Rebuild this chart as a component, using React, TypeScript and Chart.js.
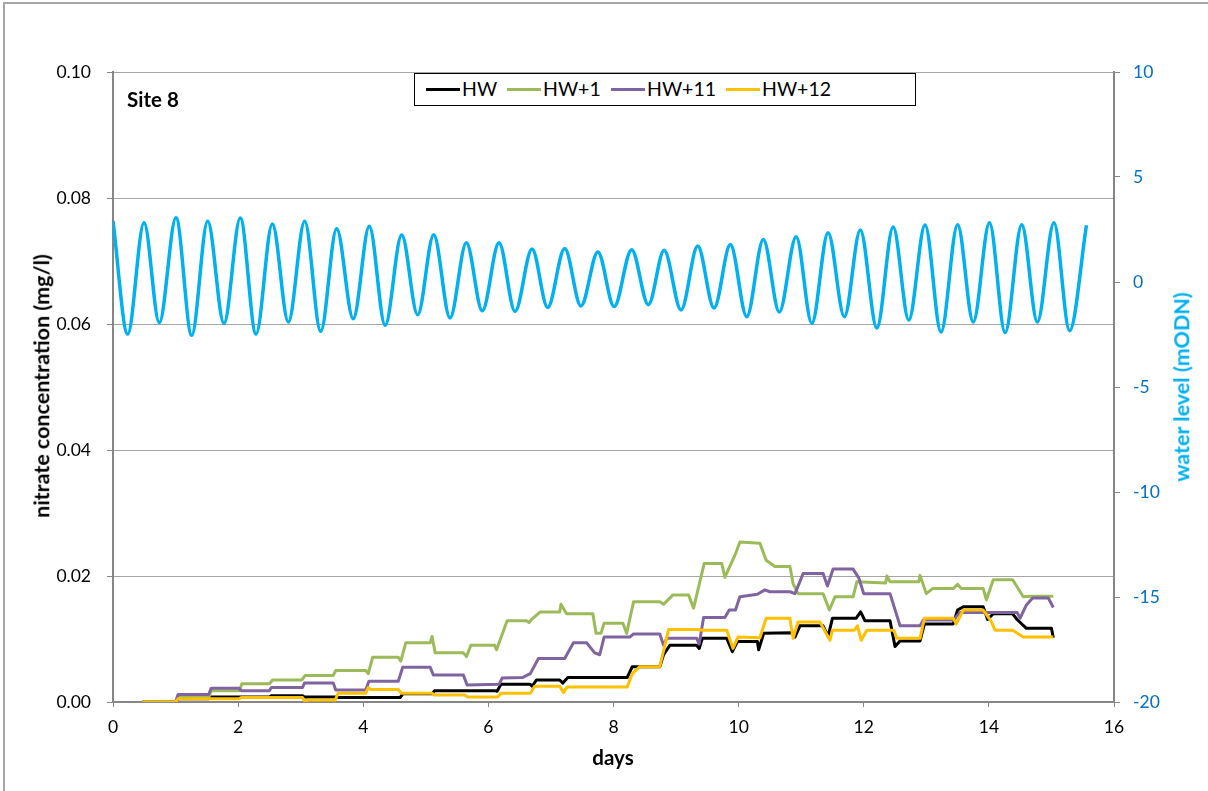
import React, { useEffect, useRef } from "react";
import { Chart, registerables } from "chart.js";

Chart.register(...registerables);

// ---- data (day, value) ----
const HW: [number, number][] = [
  [0.47, 0], [1.0, 0], [1.04, 0.0005], [1.53, 0.0005], [1.57, 0.0008], [2.5, 0.0008], [2.53, 0.001],
  [3.03, 0.001], [3.06, 0.0008], [3.55, 0.0008], [3.6, 0.0007], [4.59, 0.0007], [4.63, 0.0013],
  [5.1, 0.0013], [5.14, 0.0018], [6.1, 0.0018], [6.14, 0.0017], [6.2, 0.0028], [6.67, 0.0028],
  [6.7, 0.0025], [6.77, 0.0035], [7.14, 0.0035], [7.19, 0.003], [7.27, 0.0039], [8.22, 0.0039],
  [8.3, 0.0056], [8.74, 0.0056], [8.8, 0.0075], [8.9, 0.009], [9.33, 0.009], [9.37, 0.0085],
  [9.42, 0.0101], [9.81, 0.0101], [9.9, 0.008], [9.98, 0.0096], [10.3, 0.0096], [10.32, 0.0083],
  [10.4, 0.0109], [10.85, 0.011], [10.9, 0.0103], [10.98, 0.0121], [11.35, 0.0121], [11.43, 0.0104],
  [11.5, 0.0133], [11.88, 0.0133], [11.95, 0.0143], [12.02, 0.0129], [12.42, 0.0129], [12.5, 0.0088],
  [12.58, 0.0097], [12.9, 0.0097], [12.97, 0.0124], [13.43, 0.0124], [13.5, 0.0146], [13.59, 0.0151],
  [13.91, 0.0151], [13.98, 0.0131], [14.07, 0.014], [14.38, 0.014], [14.45, 0.0131], [14.6, 0.0117],
  [15.0, 0.0117], [15.03, 0.0102],
];

const HW_1: [number, number][] = [
  [0.47, 0], [1.0, 0], [1.04, 0.0007], [1.53, 0.0007], [1.57, 0.0018], [2.02, 0.0018], [2.06, 0.0029],
  [2.5, 0.0029], [2.55, 0.0035], [3.02, 0.0035], [3.04, 0.0038], [3.07, 0.0042], [3.52, 0.0042],
  [3.56, 0.005], [4.04, 0.005], [4.08, 0.0045], [4.15, 0.0071], [4.56, 0.0071], [4.6, 0.0065],
  [4.68, 0.0094], [5.07, 0.0094], [5.1, 0.0104], [5.15, 0.0078], [5.6, 0.0078], [5.65, 0.0072],
  [5.72, 0.009], [6.1, 0.009], [6.13, 0.0083], [6.3, 0.0129], [6.61, 0.0129], [6.65, 0.0126],
  [6.7, 0.0132], [6.83, 0.0143], [7.14, 0.0143], [7.16, 0.0155], [7.25, 0.014], [7.67, 0.014],
  [7.72, 0.0109], [7.8, 0.0109], [7.85, 0.0125], [8.15, 0.0125], [8.21, 0.0109], [8.32, 0.0159],
  [8.74, 0.0159], [8.8, 0.0155], [8.95, 0.017], [9.2, 0.017], [9.28, 0.0149], [9.45, 0.022],
  [9.73, 0.022], [9.78, 0.0198], [9.95, 0.0235], [10.02, 0.0254], [10.34, 0.0252], [10.44, 0.0225],
  [10.58, 0.0215], [10.82, 0.0215], [10.87, 0.0188], [10.95, 0.0172], [11.35, 0.0172], [11.45, 0.0146],
  [11.54, 0.0167], [11.83, 0.0167], [11.89, 0.0191], [12.35, 0.0189], [12.37, 0.02], [12.42, 0.0191],
  [12.88, 0.0191], [12.9, 0.0201], [13.0, 0.0172], [13.1, 0.018], [13.43, 0.018], [13.5, 0.0187],
  [13.56, 0.018], [13.91, 0.018], [13.96, 0.0162], [14.07, 0.0194], [14.38, 0.0194], [14.55, 0.0167],
  [14.66, 0.0168], [15.03, 0.0168],
];

const HW_11: [number, number][] = [
  [0.47, 0], [1.0, 0], [1.04, 0.0012], [1.53, 0.0012], [1.57, 0.0022], [2.01, 0.0022], [2.05, 0.0018],
  [2.5, 0.0018], [2.53, 0.0023], [3.03, 0.0023], [3.06, 0.003], [3.52, 0.003], [3.56, 0.0019],
  [4.04, 0.0019], [4.09, 0.0033], [4.56, 0.0033], [4.63, 0.0055], [5.07, 0.0055], [5.12, 0.0043],
  [5.6, 0.0043], [5.66, 0.0027], [6.17, 0.0028], [6.22, 0.0038], [6.55, 0.0039], [6.67, 0.0045],
  [6.8, 0.0069], [7.22, 0.0069], [7.36, 0.0094], [7.57, 0.0094], [7.7, 0.0078], [7.78, 0.0075],
  [7.85, 0.0103], [8.26, 0.0103], [8.32, 0.0108], [8.74, 0.0108], [8.8, 0.009], [8.85, 0.0101],
  [9.33, 0.0101], [9.37, 0.0092], [9.44, 0.0134], [9.78, 0.0134], [9.85, 0.0146], [9.95, 0.0146],
  [10.02, 0.0167], [10.3, 0.0171], [10.42, 0.0178], [10.5, 0.0175], [10.82, 0.0175], [10.9, 0.0172],
  [10.98, 0.0191], [11.03, 0.0204], [11.35, 0.0204], [11.42, 0.0184], [11.51, 0.0211], [11.83, 0.0211],
  [11.92, 0.0197], [12.0, 0.0172], [12.42, 0.0172], [12.58, 0.0121], [12.9, 0.0121], [12.95, 0.013],
  [13.43, 0.013], [13.54, 0.0142], [14.45, 0.0142], [14.5, 0.0133], [14.6, 0.0154], [14.7, 0.0165],
  [14.95, 0.0165], [15.03, 0.015],
];

const HW_12: [number, number][] = [
  [0.47, 0], [1.0, 0], [1.04, 0.0005], [2.01, 0.0005], [2.05, 0.0007], [3.03, 0.0007], [3.07, 0.0001],
  [3.12, 0.0003], [3.55, 0.0003], [3.6, 0.0014], [4.04, 0.0014], [4.08, 0.0023], [4.12, 0.002],
  [4.56, 0.002], [4.61, 0.0014], [5.1, 0.0014], [5.14, 0.0011], [5.62, 0.0011], [5.67, 0.0008],
  [6.15, 0.0008], [6.2, 0.0014], [6.67, 0.0014], [6.74, 0.0025], [7.14, 0.0025], [7.2, 0.0015],
  [7.26, 0.0024], [8.22, 0.0024], [8.3, 0.0045], [8.42, 0.0056], [8.74, 0.0056], [8.88, 0.0115],
  [9.33, 0.0115], [9.43, 0.0114], [9.81, 0.0114], [9.91, 0.0085], [9.99, 0.0103], [10.34, 0.0102],
  [10.44, 0.0133], [10.82, 0.0133], [10.87, 0.0101], [10.95, 0.0127], [11.3, 0.0127], [11.46, 0.0098],
  [11.5, 0.0114], [11.85, 0.0114], [11.9, 0.0121], [11.96, 0.0098], [12.05, 0.0114], [12.48, 0.0114],
  [12.53, 0.0101], [12.9, 0.0101], [12.97, 0.0133], [13.43, 0.0133], [13.48, 0.0124], [13.59, 0.0146],
  [13.91, 0.0146], [14.03, 0.0129], [14.1, 0.0114], [14.38, 0.0114], [14.55, 0.0103], [15.03, 0.0103],
];

// water level: successive high / low waters (day, mODN)
const WATER_LEVEL: [number, number][] = [
  [0, 2.9], [0.235, -2.48], [0.496, 2.82], [0.74, -1.94], [1.007, 3.06], [1.258, -2.54], [1.513, 2.89],
  [1.774, -1.97], [2.035, 3.05], [2.286, -2.48], [2.547, 2.76], [2.803, -1.9], [3.064, 2.89], [3.32, -2.35],
  [3.575, 2.54], [3.84, -1.75], [4.097, 2.65], [4.35, -2.06], [4.614, 2.24], [4.87, -1.56], [5.126, 2.25],
  [5.387, -1.71], [5.648, 1.87], [5.903, -1.37], [6.17, 1.87], [6.426, -1.4], [6.698, 1.57], [6.948, -1.21],
  [7.22, 1.59], [7.48, -1.14], [7.75, 1.43], [8.01, -1.17], [8.29, 1.54], [8.557, -1.08], [8.81, 1.51],
  [9.08, -1.33], [9.346, 1.71], [9.607, -1.24], [9.868, 1.78], [10.13, -1.65], [10.395, 2.02], [10.65, -1.43],
  [10.92, 2.16], [11.17, -1.97], [11.43, 2.35], [11.69, -1.65], [11.945, 2.48], [12.21, -2.19], [12.47, 2.62],
  [12.72, -1.81], [12.98, 2.71], [13.235, -2.38], [13.5, 2.73], [13.75, -1.9], [14.01, 2.82], [14.26, -2.41],
  [14.525, 2.73], [14.775, -1.9], [15.04, 2.82], [15.29, -2.32], [15.56, 2.7],
];

const LEGEND = [
  { label: "HW", color: "#000000", x: 426 },
  { label: "HW+1", color: "#9BBB59", x: 507 },
  { label: "HW+11", color: "#8064A2", x: 611 },
  { label: "HW+12", color: "#FFC000", x: 726 },
];

const FONT = "Lato, 'Open Sans', sans-serif";
const toXY = (arr: [number, number][]) => arr.map(([x, y]) => ({ x, y }));

export default function App() {
  const ref = useRef<HTMLCanvasElement | null>(null);

  useEffect(() => {
    if (!ref.current) return;
    const line = (label: string, data: [number, number][], color: string, order: number) => ({
      label,
      data: toXY(data),
      borderColor: color,
      backgroundColor: color,
      borderWidth: 3,
      borderJoinStyle: "round",
      pointRadius: 0,
      tension: 0,
      yAxisID: "y",
      order,
    });
    const chart = new Chart(ref.current, {
      type: "line",
      data: {
        datasets: [
          {
            label: "water level",
            data: toXY(WATER_LEVEL),
            borderColor: "#00B0F0",
            backgroundColor: "#00B0F0",
            borderWidth: 3.5,
            pointRadius: 0,
            cubicInterpolationMode: "monotone",
            yAxisID: "y2",
            order: 0,
          },
          line("HW+12", HW_12, "#FFC000", 1),
          line("HW+11", HW_11, "#8064A2", 2),
          line("HW+1", HW_1, "#9BBB59", 3),
          line("HW", HW, "#000000", 4),
        ] as any,
      },
      options: {
        animation: false,
        responsive: true,
        maintainAspectRatio: false,
        layout: { padding: { top: 72, left: 0, right: 0, bottom: 0 } },
        plugins: { legend: { display: false }, tooltip: { enabled: false } },
        scales: {
          x: {
            type: "linear",
            min: 0,
            max: 16,
            ticks: { stepSize: 2, color: "#000", font: { family: FONT, size: 17.5 }, padding: 10, maxRotation: 0 },
            grid: { drawOnChartArea: false, drawTicks: true, tickLength: 5, color: "#868686", tickColor: "#868686" },
            border: { display: true, color: "#868686", width: 2 },
            afterFit: (s: any) => { s.height = 89; },
          },
          y: {
            position: "left",
            min: 0,
            max: 0.1,
            ticks: {
              stepSize: 0.02,
              color: "#000",
              font: { family: FONT, size: 17.5 },
              padding: 16,
              callback: (v: any) => Number(v).toFixed(2),
            },
            grid: { color: "#A6A6A6", lineWidth: 1, tickLength: 6, tickColor: "#868686" },
            border: { display: true, color: "#868686", width: 2 },
            afterFit: (s: any) => { s.width = 113; },
          },
          y2: {
            position: "right",
            min: -20,
            max: 10,
            ticks: { stepSize: 5, color: "#0070C0", font: { family: FONT, size: 17.5 }, padding: 13 },
            grid: { drawOnChartArea: false, tickLength: 6, color: "#868686", tickColor: "#868686" },
            border: { display: true, color: "#868686", width: 2 },
            afterFit: (s: any) => { s.width = 94; },
          },
        },
      } as any,
    });
    return () => chart.destroy();
  }, []);

  const titleStyle: React.CSSProperties = {
    position: "absolute",
    fontFamily: FONT,
    fontWeight: 700,
    fontSize: 21.5,
    whiteSpace: "nowrap",
    lineHeight: "1",
  };

  return (
    <div style={{ position: "fixed", left: 0, top: 0, width: 1208, height: 791, background: "#fff", overflow: "hidden" }}>
      <div style={{ position: "absolute", left: 3, top: 2, width: 1220, height: 800, borderTop: "2px solid #a6a6a6", borderLeft: "2px solid #a6a6a6" }} />
      <canvas ref={ref} style={{ position: "absolute", left: 0, top: 0, width: 1208, height: 791 }} />
      <div style={{ ...titleStyle, left: 42, top: 386, transform: "translate(-50%, -50%) rotate(-90deg)", color: "#000" }}>
        nitrate concentration (mg/l)
      </div>
      <div style={{ ...titleStyle, left: 1182, top: 387, transform: "translate(-50%, -50%) rotate(-90deg)", color: "#00B0F0" }}>
        water level (mODN)
      </div>
      <div style={{ ...titleStyle, fontSize: 20.5, left: 613, top: 757, transform: "translate(-50%, -50%)", color: "#000" }}>days</div>
      <div style={{ ...titleStyle, fontSize: 20.5, left: 127, top: 89, color: "#000" }}>Site 8</div>
      <div style={{ position: "absolute", left: 414, top: 73, width: 500, height: 31, border: "1px solid #000", background: "#fff" }} />
      {LEGEND.map((l) => (
        <React.Fragment key={l.label}>
          <div style={{ position: "absolute", left: l.x, top: 88, width: 34, height: 3, background: l.color }} />
          <div
            style={{
              position: "absolute",
              left: l.x + 36,
              top: 89,
              transform: "translateY(-50%)",
              fontFamily: FONT,
              fontSize: 19.5,
              lineHeight: "1",
              color: "#000",
              whiteSpace: "nowrap",
            }}
          >
            {l.label}
          </div>
        </React.Fragment>
      ))}
    </div>
  );
}
